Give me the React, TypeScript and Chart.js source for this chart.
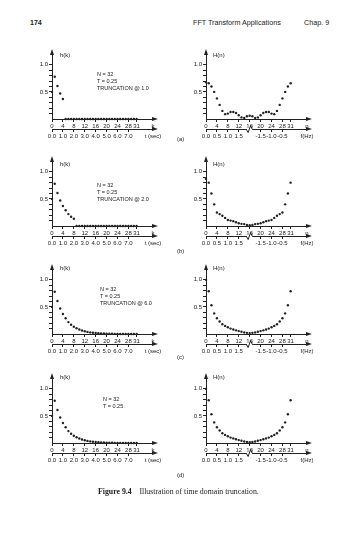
import React, { useEffect, useRef } from "react";
import { Chart, registerables } from "chart.js";

Chart.register(...registerables);

// ---------------- data ----------------
const INDEX = [0, 1, 2, 3, 4, 5, 6, 7, 8, 9, 10, 11, 12, 13, 14, 15, 16, 17, 18, 19, 20, 21, 22, 23, 24, 25, 26, 27, 28, 29, 30, 31];

const K_TICKS = [0, 4, 8, 12, 16, 20, 24, 28, 31];
const K_TICK_LABELS = ["0", "4", "8", "12", "16", "20", "24", "28", "31"];
const T_TICKS = [0, 1, 2, 3, 4, 5, 6, 7];
const T_TICK_LABELS = ["0.0", "1.0", "2.0", "3.0", "4.0", "5.0", "6.0", "7.0"];
const F_TICKS = [0, 4, 8, 12, 20, 24, 28];
const F_TICK_LABELS = ["0.0", "0.5", "1.0", "1.5", "-1.5", "-1.0", "-0.5"];
const Y_TICKS = [0.1, 0.2, 0.3, 0.4, 0.5, 0.6, 0.7, 0.8, 0.9, 1.0];
const Y_TICK_LABELS = ["", "", "", "", "0.5", "", "", "", "", "1.0"];

// (a) truncation @ 1.0
const H_TIME_A = [0.5, 0.78, 0.61, 0.47, 0.37, 0, 0, 0, 0, 0, 0, 0, 0, 0, 0, 0, 0, 0, 0, 0, 0, 0, 0, 0, 0, 0, 0, 0, 0, 0, 0, 0];
const H_FREQ_A = [0.68, 0.66, 0.6, 0.5, 0.38, 0.26, 0.15, 0.09, 0.1, 0.13, 0.13, 0.11, 0.07, 0.03, 0.02, 0.05, 0.06, 0.05, 0.02, 0.03, 0.07, 0.11, 0.13, 0.13, 0.1, 0.09, 0.15, 0.26, 0.38, 0.5, 0.6, 0.66];

// (b) truncation @ 2.0
const H_TIME_B = [0.5, 0.78, 0.61, 0.47, 0.37, 0.29, 0.22, 0.17, 0.135, 0, 0, 0, 0, 0, 0, 0, 0, 0, 0, 0, 0, 0, 0, 0, 0, 0, 0, 0, 0, 0, 0, 0];
const H_FREQ_B = [0.87, 0.8, 0.6, 0.4, 0.25, 0.22, 0.19, 0.15, 0.11, 0.1, 0.09, 0.07, 0.05, 0.04, 0.035, 0.02, 0.013, 0.02, 0.035, 0.04, 0.05, 0.07, 0.09, 0.1, 0.11, 0.15, 0.19, 0.22, 0.25, 0.4, 0.6, 0.8];

// (c) truncation @ 6.0
const H_TIME_C = [0.5, 0.78, 0.61, 0.47, 0.37, 0.29, 0.22, 0.17, 0.135, 0.105, 0.082, 0.064, 0.05, 0.039, 0.03, 0.024, 0.018, 0.014, 0.011, 0.009, 0.007, 0.005, 0.004, 0.003, 0.0025, 0, 0, 0, 0, 0, 0, 0];
const H_FREQ_C = [1.0, 0.79, 0.53, 0.38, 0.29, 0.23, 0.18, 0.15, 0.124, 0.1, 0.084, 0.067, 0.054, 0.042, 0.03, 0.021, 0.017, 0.021, 0.03, 0.042, 0.054, 0.067, 0.084, 0.1, 0.124, 0.15, 0.18, 0.23, 0.29, 0.38, 0.53, 0.79];

// (d) no truncation
const H_TIME_D = [0.5, 0.78, 0.61, 0.47, 0.37, 0.29, 0.22, 0.17, 0.135, 0.105, 0.082, 0.064, 0.05, 0.039, 0.03, 0.024, 0.018, 0.014, 0.011, 0.009, 0.007, 0.005, 0.004, 0.003, 0.0025, 0.002, 0.0015, 0.0012, 0.0009, 0.0007, 0.0006, 0.0005];
const H_FREQ_D = [1.0, 0.79, 0.53, 0.38, 0.29, 0.23, 0.18, 0.15, 0.125, 0.1, 0.085, 0.068, 0.054, 0.041, 0.029, 0.02, 0.016, 0.02, 0.029, 0.041, 0.054, 0.068, 0.085, 0.1, 0.125, 0.15, 0.18, 0.23, 0.29, 0.38, 0.53, 0.79];

const ANNOTATIONS = [
  ["N = 32", "T = 0.25", "TRUNCATION @ 1.0"],
  ["N = 32", "T = 0.25", "TRUNCATION @ 2.0"],
  ["N = 32", "T = 0.25", "TRUNCATION @ 6.0"],
  ["N = 32", "T = 0.25"],
];
const ROW_LABELS = ["(a)", "(b)", "(c)", "(d)"];

// ---------------- style / layout ----------------
const INK = "#222";
const SANS = "'Liberation Sans', Arial, sans-serif";
const SERIF = "'Liberation Serif', 'Times New Roman', serif";
const X_END = 37;
const T_END = 9.25;
const ROW_ZERO_Y = [119, 226, 334, 443];
const ROW_TITLE_Y = [56, 165, 269, 378];
const ROW_NOTE = [
  { x: 97, y: 74 },
  { x: 97, y: 185 },
  { x: 100, y: 289 },
  { x: 103, y: 399 },
];
const ROW_LABEL_Y = [140, 252, 358, 476];
const CANVAS_W = 141;
const CANVAS_H = 95;

const decor = {
  id: "decor",
  afterDraw(chart: any, _args: any, opts: any) {
    const ctx = chart.ctx;
    const a = chart.chartArea;
    const x2 = chart.scales.x2;
    ctx.save();
    ctx.fillStyle = INK;
    ctx.strokeStyle = INK;
    ctx.lineWidth = 1;
    // up arrow on y axis
    ctx.beginPath();
    ctx.moveTo(a.left, a.top - 5);
    ctx.lineTo(a.left - 2, a.top + 1);
    ctx.lineTo(a.left + 2, a.top + 1);
    ctx.closePath();
    ctx.fill();
    // right arrows on both horizontal axes
    [a.bottom, x2.top].forEach((y: number) => {
      ctx.beginPath();
      ctx.moveTo(a.right + 5, y);
      ctx.lineTo(a.right - 1, y - 2);
      ctx.lineTo(a.right - 1, y + 2);
      ctx.closePath();
      ctx.fill();
    });
    if (opts && opts.freq) {
      const bx = chart.scales.x.getPixelForValue(15.8);
      const y = x2.top;
      ctx.fillStyle = "#fff";
      ctx.fillRect(bx - 3, y - 1.5, 6, 3);
      ctx.beginPath();
      ctx.moveTo(bx - 3, y);
      ctx.lineTo(bx - 1, y + 3.5);
      ctx.lineTo(bx + 1.5, y - 3.5);
      ctx.lineTo(bx + 3, y);
      ctx.stroke();
    }
    ctx.restore();
  },
};

function tickColorFor(count: number) {
  return (c: any) => (c.index >= count ? "rgba(0,0,0,0)" : INK);
}

function makeConfig(values: number[], kind: "time" | "freq") {
  const letter = kind === "time" ? "k" : "n";
  const x2Ticks = kind === "time" ? [...T_TICKS, T_END] : [...F_TICKS, X_END];
  const x2Labels = kind === "time" ? [...T_TICK_LABELS, "t (sec)"] : [...F_TICK_LABELS, "f(Hz)"];
  const x2Count = kind === "time" ? T_TICKS.length : F_TICKS.length;
  const font = { family: SANS, size: 6 };
  return {
    type: "scatter",
    data: {
      datasets: [
        {
          data: INDEX.map((k, i) => ({ x: k, y: values[i] })),
          pointRadius: 1.2,
          pointHoverRadius: 1.2,
          pointBorderWidth: 0,
          backgroundColor: INK,
          borderColor: INK,
          showLine: false,
          clip: false,
        },
      ],
    },
    options: {
      animation: false,
      responsive: false,
      maintainAspectRatio: false,
      events: [],
      layout: { padding: { left: 4, right: 16, top: 6, bottom: 2 } },
      plugins: {
        legend: { display: false },
        tooltip: { enabled: false },
        decor: { freq: kind === "freq" },
      },
      scales: {
        x: {
          type: "linear",
          position: "bottom",
          weight: 0,
          min: 0,
          max: X_END,
          afterBuildTicks: (s: any) => {
            s.ticks = [...K_TICKS, X_END].map((v) => ({ value: v }));
          },
          afterFit: (s: any) => {
            s.height = 10;
          },
          border: { display: true, color: INK, width: 1 },
          grid: {
            display: true,
            drawOnChartArea: false,
            drawTicks: true,
            tickLength: 3,
            color: INK,
            tickColor: tickColorFor(K_TICKS.length),
          },
          ticks: {
            autoSkip: false,
            maxRotation: 0,
            minRotation: 0,
            padding: 1,
            font,
            color: INK,
            callback: (_v: any, i: number) => (i < K_TICK_LABELS.length ? K_TICK_LABELS[i] : letter),
          },
        },
        x2: {
          type: "linear",
          position: "bottom",
          weight: 1,
          min: 0,
          max: kind === "time" ? T_END : X_END,
          afterBuildTicks: (s: any) => {
            s.ticks = x2Ticks.map((v) => ({ value: v }));
          },
          afterFit: (s: any) => {
            s.height = 12;
          },
          border: { display: true, color: INK, width: 1 },
          grid: {
            display: true,
            drawOnChartArea: false,
            drawTicks: true,
            tickLength: 3,
            color: INK,
            tickColor: tickColorFor(x2Count),
          },
          ticks: {
            autoSkip: false,
            maxRotation: 0,
            minRotation: 0,
            padding: 1,
            font,
            color: INK,
            callback: (_v: any, i: number) => x2Labels[i],
          },
        },
        y: {
          type: "linear",
          position: "left",
          min: 0,
          max: 1.2,
          afterBuildTicks: (s: any) => {
            s.ticks = Y_TICKS.map((v) => ({ value: v }));
          },
          afterFit: (s: any) => {
            s.width = 20;
          },
          border: { display: true, color: INK, width: 1 },
          grid: {
            display: true,
            drawOnChartArea: false,
            drawTicks: true,
            tickLength: 3,
            color: INK,
            tickColor: INK,
          },
          ticks: {
            autoSkip: false,
            padding: 1,
            font,
            color: INK,
            callback: (_v: any, i: number) => Y_TICK_LABELS[i],
          },
        },
      },
    },
    plugins: [decor],
  };
}

function Plot({ left, zeroY, values, kind }: { left: number; zeroY: number; values: number[]; kind: "time" | "freq" }) {
  const ref = useRef<HTMLCanvasElement | null>(null);
  useEffect(() => {
    if (!ref.current) return;
    const chart = new Chart(ref.current, makeConfig(values, kind) as any);
    return () => chart.destroy();
  }, [values, kind]);
  return (
    <canvas
      ref={ref}
      width={CANVAS_W}
      height={CANVAS_H}
      style={{ position: "absolute", left, top: zeroY - 71, width: CANVAS_W, height: CANVAS_H }}
    />
  );
}

function Txt({
  x,
  y,
  size,
  children,
  family = SANS,
  weight = 400,
}: {
  x: number;
  y: number;
  size: number;
  children: React.ReactNode;
  family?: string;
  weight?: number;
}) {
  return (
    <div
      style={{
        position: "absolute",
        left: x,
        top: y - size * 0.6,
        fontSize: size,
        lineHeight: `${size * 1.2}px`,
        fontFamily: family,
        fontWeight: weight,
        color: INK,
        whiteSpace: "nowrap",
      }}
    >
      {children}
    </div>
  );
}

const ROWS = [
  { time: H_TIME_A, freq: H_FREQ_A },
  { time: H_TIME_B, freq: H_FREQ_B },
  { time: H_TIME_C, freq: H_FREQ_C },
  { time: H_TIME_D, freq: H_FREQ_D },
];

export default function App() {
  return (
    <div
      style={{
        position: "absolute",
        left: 0,
        top: 0,
        width: 360,
        height: 538,
        background: "#fff",
        overflow: "hidden",
      }}
    >
      <Txt x={30} y={23} size={7} weight={700}>174</Txt>
      <Txt x={193} y={23} size={7.2}>FFT Transform Applications</Txt>
      <Txt x={304} y={23} size={7.2}>Chap. 9</Txt>

      {ROWS.map((row, r) => (
        <React.Fragment key={r}>
          <Plot left={28} zeroY={ROW_ZERO_Y[r]} values={row.time} kind="time" />
          <Plot left={182} zeroY={ROW_ZERO_Y[r]} values={row.freq} kind="freq" />
          <Txt x={60} y={ROW_TITLE_Y[r]} size={6}>h(k)</Txt>
          <Txt x={213} y={ROW_TITLE_Y[r]} size={6}>H(n)</Txt>
          {ANNOTATIONS[r].map((line, i) => (
            <Txt key={i} x={ROW_NOTE[r].x} y={ROW_NOTE[r].y + i * 7} size={5.5}>
              {line}
            </Txt>
          ))}
          <Txt x={177} y={ROW_LABEL_Y[r]} size={6}>{ROW_LABELS[r]}</Txt>
        </React.Fragment>
      ))}

      <Txt x={98} y={492} size={7.8} family={SERIF}>
        <span style={{ fontWeight: 700 }}>Figure 9.4</span>
        {"\u2003Illustration of time domain truncation."}
      </Txt>
    </div>
  );
}
